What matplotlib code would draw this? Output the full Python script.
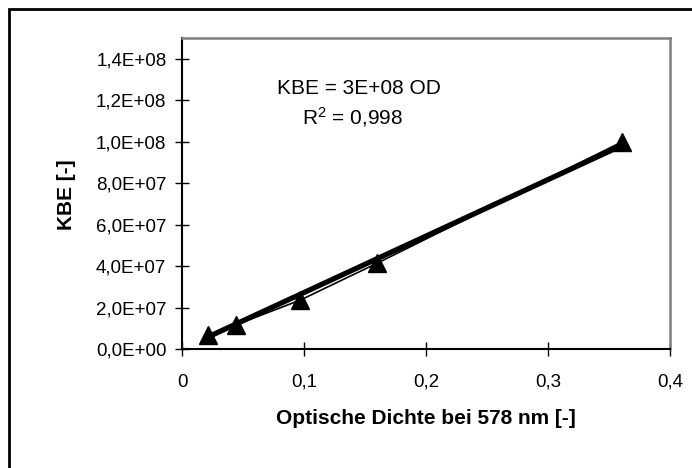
import matplotlib
matplotlib.use("Agg")
import matplotlib.pyplot as plt
import numpy as np
from matplotlib.patches import Rectangle

plt.rcParams["font.family"] = ["Liberation Sans", "DejaVu Sans"]
plt.rcParams["mathtext.default"] = "regular"

# Optical density vs. colony forming units
od = [0.021, 0.044, 0.097, 0.160, 0.361]
kbe = [6.7e6, 1.16e7, 2.36e7, 4.14e7, 1.00e8]

x_ticks = [0, 0.1, 0.2, 0.3, 0.4]
x_tick_labels = ["0", "0,1", "0,2", "0,3", "0,4"]
y_ticks = [0, 2e7, 4e7, 6e7, 8e7, 1.0e8, 1.2e8, 1.4e8]
y_tick_labels = ["0,0E+00", "2,0E+07", "4,0E+07", "6,0E+07", "8,0E+07",
                 "1,0E+08", "1,2E+08", "1,4E+08"]

fit_label = "KBE = 3E+08 OD"
r2_label = "R$^{2}$ = 0,998"

W, H = 692, 468
fig = plt.figure(figsize=(W / 100, H / 100), dpi=100)
ax = fig.add_axes([182 / W, (H - 349) / H, (670 - 182) / W, (349 - 38) / H])

# linear trendline forced through the origin
x = np.array(od)
y = np.array(kbe)
slope = np.sum(x * y) / np.sum(x * x)
xf = np.array([x.min(), x.max()])
ax.plot(xf, slope * xf, color="black", lw=3.8, solid_capstyle="butt", zorder=2)

ax.plot(od, kbe, color="black", lw=1.2, marker="^", markersize=13, zorder=3)

ax.set_xlim(0, 0.4)
ax.set_ylim(0, 1.5e8)
ax.set_xticks(x_ticks)
ax.set_xticklabels(x_tick_labels)
ax.set_yticks(y_ticks)
ax.set_yticklabels(y_tick_labels)
ax.tick_params(direction="inout", length=9.5, width=1, labelsize=13.5)
ax.tick_params(axis="x", pad=13)
ax.tick_params(axis="y", pad=6.5)

for side in ("left", "bottom"):
    ax.spines[side].set_color("black")
    ax.spines[side].set_linewidth(1.5)
for side in ("top", "right"):
    ax.spines[side].set_color("#808080")
    ax.spines[side].set_linewidth(1.8)

ax.set_xlabel("Optische Dichte bei 578 nm [-]", fontsize=15, fontweight="bold", va="center")
ax.set_ylabel("KBE [-]", fontsize=15, fontweight="bold", va="center")
ax.xaxis.set_label_coords(0.5, (349 - 418) / 311)
ax.yaxis.set_label_coords((66 - 182) / 488, (349 - 195) / 311)

ax.text(0.363, 0.839, fit_label, transform=ax.transAxes, ha="center", va="center", fontsize=15)
ax.text(0.350, 0.745, r2_label, transform=ax.transAxes, ha="center", va="center", fontsize=15)

# chart frame, running past the right and bottom edges
fig.patches.append(Rectangle((9 / W, -0.1), 2, (H - 9) / H + 0.1, transform=fig.transFigure,
                             fill=False, edgecolor="black", lw=2))

fig.savefig("out.png", dpi=100)
